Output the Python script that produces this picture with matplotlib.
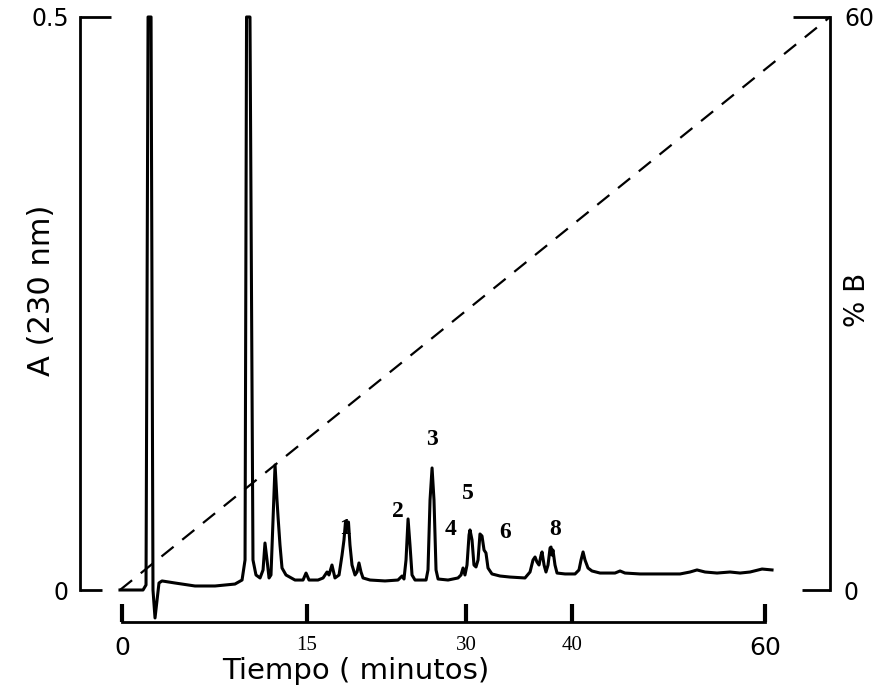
"""Cromatograma HPLC con gradiente de %B."""

import matplotlib
matplotlib.use("Agg")
import matplotlib.pyplot as plt

# Traza del detector (minutos, absorbancia a 230 nm)
tiempo = [-0.19, 1.96, 2.24, 2.43, 2.71, 2.89, 3.08, 3.27, 3.45, 3.73, 4.95, 6.81,
          8.68, 10.54, 11.20, 11.48, 11.62, 11.94, 12.22, 12.50, 12.88, 13.16,
          13.34, 13.53, 13.72, 13.90, 14.09, 14.28, 14.46, 14.56, 14.74, 14.93,
          15.30, 16.14, 16.89, 17.17, 17.45, 18.29, 18.76, 19.13, 19.31, 19.59,
          19.87, 20.25, 20.53, 20.71, 20.85, 20.99, 21.13, 21.27, 21.46, 21.74,
          21.93, 22.11, 22.30, 22.49, 23.14, 24.54, 25.75, 26.13, 26.31, 26.50,
          26.69, 26.87, 27.06, 27.34, 28.37, 28.55, 28.74, 28.93, 29.11, 29.30,
          29.49, 30.42, 31.35, 31.63, 31.82, 32.00, 32.19, 32.38, 32.47, 32.66,
          32.84, 33.03, 33.22, 33.40, 33.59, 33.78, 33.96, 34.15, 34.52, 35.27,
          36.20, 37.60, 38.07, 38.35, 38.54, 38.72, 38.91, 39.10, 39.19, 39.38,
          39.56, 39.75, 39.94, 40.03, 40.12, 40.21, 40.40, 40.59, 41.34, 42.27,
          42.64, 42.83, 43.02, 43.20, 43.48, 43.85, 44.60, 45.54, 46.00, 46.47,
          46.93, 48.33, 50.20, 52.07, 53.00, 53.65, 54.40, 55.52, 56.73, 57.67,
          58.60, 59.72, 60.65]
absorbancia = [0.0, 0.0, 0.0044, 0.5, 0.5, 0.0, -0.0244, -0.0087, 0.0061, 0.0079,
               0.0061, 0.0035, 0.0035, 0.0052, 0.0087, 0.0262, 0.5, 0.5, 0.0262,
               0.0131, 0.0105, 0.0175, 0.0410, 0.0262, 0.0105, 0.0131, 0.0611,
               0.1091, 0.0785, 0.0637, 0.0393, 0.0192, 0.0131, 0.0087, 0.0087,
               0.0148, 0.0087, 0.0087, 0.0105, 0.0157, 0.0131, 0.0218, 0.0105,
               0.0131, 0.0305, 0.0436, 0.0593, 0.0541, 0.0593, 0.0393, 0.0218,
               0.0131, 0.0157, 0.0236, 0.0157, 0.0105, 0.0087, 0.0079, 0.0087,
               0.0122, 0.0096, 0.0262, 0.0620, 0.0393, 0.0131, 0.0087, 0.0087,
               0.0175, 0.0785, 0.1065, 0.0785, 0.0175, 0.0096, 0.0087, 0.0105,
               0.0131, 0.0192, 0.0131, 0.0218, 0.0480, 0.0524, 0.0436, 0.0218,
               0.0201, 0.0262, 0.0489, 0.0471, 0.0349, 0.0323, 0.0192, 0.0140,
               0.0122, 0.0113, 0.0105, 0.0157, 0.0262, 0.0288, 0.0244, 0.0218,
               0.0305, 0.0332, 0.0218, 0.0157, 0.0218, 0.0367, 0.0375, 0.0305,
               0.0349, 0.0218, 0.0148, 0.0140, 0.0140, 0.0175, 0.0262, 0.0332,
               0.0262, 0.0192, 0.0166, 0.0148, 0.0148, 0.0148, 0.0166, 0.0148,
               0.0140, 0.0140, 0.0140, 0.0157, 0.0175, 0.0157, 0.0148, 0.0157,
               0.0148, 0.0157, 0.0183, 0.0175]

# Gradiente lineal de disolvente B
grad_t = [-0.19, 66.06]
grad_b = [0, 60]

# Picos numerados
pico_num = ["1", "2", "3", "4", "5", "6", "8"]
pico_t = [20.81, 25.75, 28.93, 30.70, 32.28, 35.74, 40.40]
pico_a = [0.0541, 0.0681, 0.1309, 0.0524, 0.0838, 0.0506, 0.0524]

# Marcas del eje de tiempo (las etiquetas van sobre las marcas dibujadas)
xticks = [0, 17.26, 32.10, 41.99, 60]
xlabels = ["0", "15", "30", "40", "60"]

fig = plt.figure(figsize=(8.96, 6.88), dpi=100)
ax = fig.add_axes([80 / 896, 1 - 590 / 688, 750 / 896, 573 / 688])
ax2 = ax.twinx()

ax.plot(tiempo, absorbancia, color="black", lw=2.2, clip_on=False,
        solid_joinstyle="round")
ax2.plot(grad_t, grad_b, color="black", lw=1.6, dashes=(7, 5), clip_on=False)

for n, t, a in zip(pico_num, pico_t, pico_a):
    ax.text(t, a, n, ha="center", va="center", fontsize=17,
            family="Liberation Serif", weight="bold")

ax.set_xlim(-3.92, 66.06)
ax.set_ylim(0, 0.5)
ax2.set_ylim(0, 60)

for a in (ax, ax2):
    a.spines["top"].set_visible(False)
    for s in a.spines.values():
        s.set_linewidth(2)
ax2.spines["bottom"].set_visible(False)
ax2.spines["left"].set_visible(False)
ax.spines["right"].set_visible(False)

# eje de tiempo separado por debajo
ax.spines["bottom"].set_position(("outward", 23))
ax.spines["bottom"].set_bounds(0, 60)
ax.set_xticks(xticks)
ax.set_xticklabels(xlabels)
ax.tick_params(axis="x", direction="in", length=13, width=3, pad=10)
for i, lab in enumerate(ax.get_xticklabels()):
    if xlabels[i] in ("0", "60"):
        lab.set_fontsize(18)
    else:
        lab.set_fontsize(15)
        lab.set_family("Liberation Serif")

ax.set_yticks([0, 0.5])
ax.set_yticklabels(["0", "0.5"], fontsize=17)
ax.tick_params(axis="y", direction="in", length=16, width=2, pad=8)
ax.yaxis.get_major_ticks()[1].tick1line.set_markersize(22)

ax2.set_yticks([0, 60])
ax2.set_yticklabels(["0", "60"], fontsize=17)
ax2.tick_params(axis="y", direction="in", length=20, width=2, pad=10)
ax2.yaxis.get_major_ticks()[1].tick2line.set_markersize(27)

fig.text(42 / 896, 1 - 290 / 688, "A (230 nm)", rotation=90, ha="center",
         va="center", fontsize=22)
fig.text(857 / 896, 1 - 300 / 688, "% B", rotation=90, ha="center",
         va="center", fontsize=20)
fig.text(356 / 896, 1 - 671 / 688, "Tiempo ( minutos)", ha="center",
         va="center", fontsize=21)

fig.savefig("out.png", dpi=100)
